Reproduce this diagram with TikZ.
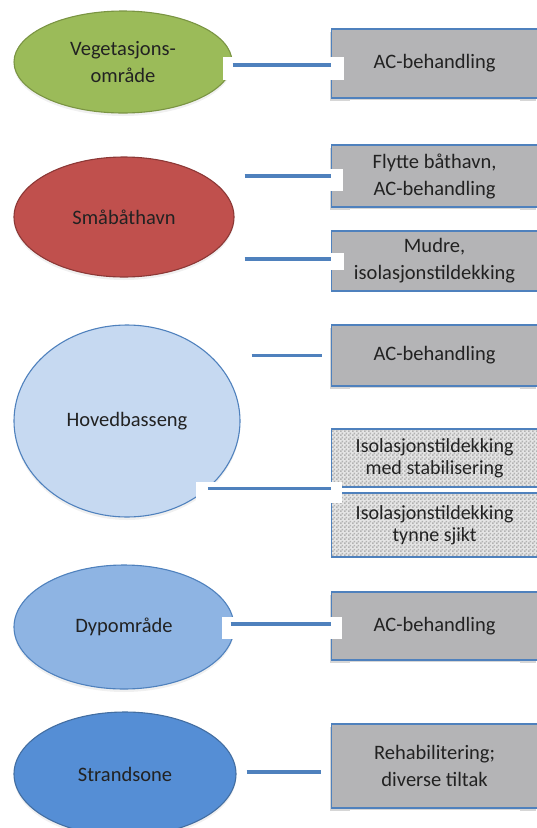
\documentclass[tikz,border=0pt]{standalone}
\usepackage{fontspec}
\setmainfont{Carlito}
\usetikzlibrary{shapes.geometric,shadows,calc,patterns.meta}

\definecolor{vegfill}{HTML}{9BBB59}
\definecolor{vegline}{HTML}{7A9443}
\definecolor{redfill}{HTML}{C0504D}
\definecolor{redline}{HTML}{8C3836}
\definecolor{hovfill}{HTML}{C6D9F1}
\definecolor{dypfill}{HTML}{8EB4E3}
\definecolor{strfill}{HTML}{558ED5}
\definecolor{blueline}{HTML}{4F81BD}
\definecolor{boxfill}{HTML}{B4B4B6}
\definecolor{txt}{HTML}{222222}

% fine grey/white checker used for the cover-layer boxes
\tikzdeclarepattern{
  name=finechecker,
  type=uncolored,
  bottom left={(0pt,0pt)},
  top right={(4pt,4pt)},
  tile size={(4pt,4pt)},
  code={\fill (0pt,0pt) rectangle (2pt,2pt); \fill (2pt,2pt) rectangle (4pt,4pt);}
}

\begin{document}
\begin{tikzpicture}[x=1pt,y=-1pt,
  zone/.style={ellipse, draw, line width=1.1pt, inner sep=0pt, text=txt,
    align=center, font=\fontsize{20.5pt}{26.5pt}\selectfont,
    drop shadow={shadow xshift=0pt, shadow yshift=-3pt, opacity=0.12}},
  measure/.style={rectangle, draw=blueline, line width=1.2pt, fill=boxfill,
    anchor=west, minimum width=206pt, inner sep=0pt, text=txt, align=center,
    font=\fontsize{20.5pt}{27pt}\selectfont},
  shaded/.style={measure, drop shadow={shadow xshift=-2pt, shadow yshift=-3pt, opacity=0.32}},
  cover/.style={measure, fill=none,
    preaction={fill=black!10},
    pattern=finechecker, pattern color=black!30,
    font=\fontsize{20pt}{22pt}\selectfont},
  link/.style={draw=blueline, line width=3.2pt},
  gap/.style={fill=white}]
\useasboundingbox (0,0) rectangle (536,828);

% area ellipses
\node[zone, fill=vegfill, draw=vegline, minimum width=218pt, minimum height=102pt]
  (veg) at (123,62) {Vegetasjons-\\område};
\node[zone, fill=redfill, draw=redline, minimum width=220pt, minimum height=120pt]
  (smb) at (124,217) {Småbåthavn};
\node[zone, fill=hovfill, draw=blueline, minimum width=226pt, minimum height=192pt]
  (hov) at (127,421) {Hovedbasseng};
\node[zone, fill=dypfill, draw=blueline, minimum width=220pt, minimum height=124pt]
  (dyp) at (124,627) {Dypområde};
\node[zone, fill=strfill, draw=blueline!85!black, minimum width=222pt, minimum height=124pt]
  (str) at (125,774) {Strandsone};

% measure boxes
\node[shaded, minimum height=69pt] (b1) at (331,63.5) {AC-behandling};
\node[shaded, minimum height=62pt] (b2) at (331,176) {Flytte båthavn,\\AC-behandling};
\node[measure, minimum height=60pt] (b3) at (331,261) {Mudre,\\isolasjonstildekking};
\node[shaded, minimum height=61pt] (b4) at (331,355.5) {AC-behandling};
\node[cover, minimum height=58pt] (b5) at (331,458) {Isolasjonstildekking\\med stabilisering};
\node[cover, minimum height=64pt] (b6) at (331,525) {Isolasjonstildekking\\tynne sjikt};
\node[shaded, minimum height=68pt] (b7) at (331,626) {AC-behandling};
\node[shaded, minimum height=84pt] (b8) at (331,766) {Rehabilitering;\\diverse tiltak};

% white breaks in the shadows below the boxes
\foreach \b in {b1,b2,b4,b7,b8}
  \fill[gap] ($(\b.south west)+(19,1)$) rectangle ($(\b.south west)+(189,5)$);

% white backing behind some connectors
\fill[gap] (223,57) rectangle (344,80);
\fill[gap] (236,169) rectangle (343,191);
\fill[gap] (236,253) rectangle (344,270);
\fill[gap] (196,482) rectangle (342,503);
\fill[gap] (222,617) rectangle (342,639);

% connectors
\draw[link] ($(veg.east)+(0,3)$) -- ($(b1.west)+(0,1.5)$);
\draw[link] ($(smb.east |- b2.west)+(10,0)$) -- (b2.west);
\draw[link] ($(smb.east |- b3.west)+(10,-2)$) -- ($(b3.west)+(0,-2)$);
\draw[link] ($(hov.east |- b4.west)+(11,0)$) -- ($(b4.west)+(-9,0)$);
\draw[link] (hov.-40) -- (hov.-40 -| b5.west);
\draw[link] ($(dyp.east)+(-4,-3)$) -- ($(b7.west)+(0,-2)$);
\draw[link] ($(str.east)+(10,-2)$) -- ($(b8.west)+(-10,6)$);
\end{tikzpicture}
\end{document}
